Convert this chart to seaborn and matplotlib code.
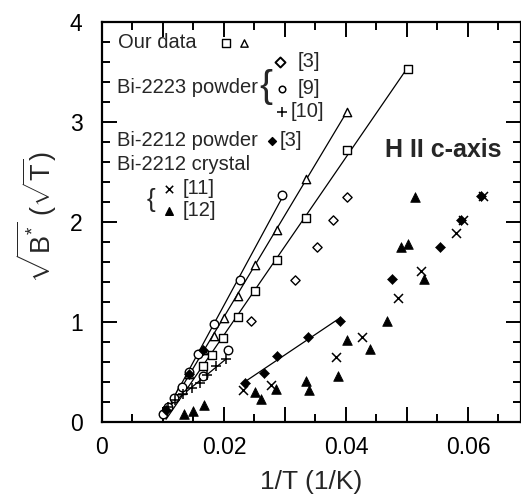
import numpy as np
import pandas as pd
import matplotlib
matplotlib.use("Agg")
import matplotlib.pyplot as plt
import seaborn as sns

# ------------------------------------------------
# Data
# ------------------------------------------------
# Our data - open squares (fitted line)
sq_x = [0.0131, 0.0166, 0.0181, 0.0198, 0.0223, 0.0251, 0.0287, 0.0334, 0.0402, 0.0501]
sq_y = [0.32, 0.56, 0.67, 0.84, 1.05, 1.31, 1.62, 2.04, 2.72, 3.53]
# Our data - open triangles (fitted line)
tri_x = [0.0127, 0.0143, 0.0166, 0.0184, 0.0200, 0.0223, 0.0251, 0.0287, 0.0334, 0.0401]
tri_y = [0.32, 0.48, 0.72, 0.86, 1.04, 1.26, 1.57, 1.92, 2.43, 3.10]
# Bi-2223 powder [3] - open diamonds
dia_x = [0.0245, 0.0316, 0.0352, 0.0378, 0.0401]
dia_y = [1.01, 1.42, 1.75, 2.02, 2.25]
# Bi-2223 powder [9] - open circles (fitted line) and two off-line circles
circ_x = [0.0100, 0.0108, 0.0118, 0.0131, 0.0143, 0.0158, 0.0183, 0.0226, 0.0295]
circ_y = [0.08, 0.15, 0.24, 0.35, 0.50, 0.68, 0.98, 1.42, 2.27]
circ_off_x = [0.0166, 0.0207]
circ_off_y = [0.46, 0.72]
# Bi-2223 powder [10] - plus (fitted line)
plus_x = [0.0109, 0.0120, 0.0133, 0.0147, 0.0161, 0.0172, 0.0187, 0.0204]
plus_y = [0.15, 0.22, 0.28, 0.34, 0.39, 0.47, 0.56, 0.63]
# Bi-2212 powder [3] - filled diamonds (line over the first five)
fdia_x = [0.0234, 0.0266, 0.0287, 0.0337, 0.0390]
fdia_y = [0.39, 0.49, 0.66, 0.85, 1.01]
fdia_off_x = [0.0105, 0.0142, 0.0166, 0.0475, 0.0555, 0.0588, 0.0621]
fdia_off_y = [0.12, 0.48, 0.72, 1.43, 1.75, 2.02, 2.26]
# Bi-2212 crystal [11] - crosses
cross_x = [0.0231, 0.0277, 0.0384, 0.0426, 0.0485, 0.0523, 0.0580, 0.0592, 0.0625]
cross_y = [0.32, 0.37, 0.65, 0.85, 1.24, 1.51, 1.89, 2.02, 2.26]
# Bi-2212 crystal [12] - filled triangles
ftri_x = [0.0135, 0.0149, 0.0168, 0.0251, 0.0260, 0.0286, 0.0334, 0.0340, 0.0387,
          0.0401, 0.0440, 0.0467, 0.0491, 0.0502, 0.0514, 0.0528]
ftri_y = [0.08, 0.11, 0.17, 0.30, 0.23, 0.33, 0.41, 0.32, 0.46,
          0.82, 0.73, 1.01, 1.75, 1.78, 2.25, 1.43]

x_ticks = [0, 0.01, 0.02, 0.03, 0.04, 0.05, 0.06]
x_ticklabels = ['0', '', '0.02', '', '0.04', '', '0.06']
y_ticks = [0, 1, 2, 3, 4]

# start of each fitted line
line_start = {"sq": 0.0105, "tri": 0.0102, "circ": 0.0099, "plus": 0.0100}

# ------------------------------------------------
# Style
# ------------------------------------------------
sns.set_style("ticks")
plt.rcParams['font.family'] = ['Liberation Sans', 'DejaVu Sans']
plt.rcParams['mathtext.fontset'] = 'custom'
plt.rcParams['mathtext.rm'] = 'Liberation Sans'
plt.rcParams['mathtext.it'] = 'Liberation Sans:italic'
plt.rcParams['mathtext.bf'] = 'Liberation Sans:bold'

fig = plt.figure(figsize=(5.21, 5), dpi=100)
ax = fig.add_axes([102 / 521, 1 - 421.7 / 500, 419 / 521, 400 / 500])

K = 'black'


def fit_line(xs, ys, x0, x1=None):
    p = np.polyfit(xs, ys, 1)
    x1 = max(xs) if x1 is None else x1
    xx = np.array([x0, x1])
    sns.lineplot(x=xx, y=np.polyval(p, xx), ax=ax, color=K, lw=0.9, zorder=2)


fit_line(sq_x, sq_y, line_start["sq"])
fit_line(tri_x, tri_y, line_start["tri"])
fit_line(circ_x, circ_y, line_start["circ"])
fit_line(plus_x, plus_y, line_start["plus"])
fit_line(fdia_x, fdia_y, min(fdia_x))

open_kw = dict(facecolor='white', edgecolor=K, linewidth=1.0, zorder=3, ax=ax)
sns.scatterplot(x=sq_x, y=sq_y, marker='s', s=34, **open_kw)
sns.scatterplot(x=tri_x, y=tri_y, marker='^', s=36, **open_kw)
sns.scatterplot(x=dia_x, y=dia_y, marker='D', s=22, **open_kw)
sns.scatterplot(x=circ_x + circ_off_x, y=circ_y + circ_off_y, marker='o', s=38, **open_kw)
sns.scatterplot(x=plus_x, y=plus_y, marker='+', s=60, color=K, linewidth=1.1, zorder=3, ax=ax)
sns.scatterplot(x=fdia_x + fdia_off_x, y=fdia_y + fdia_off_y, marker='D', s=26,
                color=K, edgecolor=K, zorder=3, ax=ax)
sns.scatterplot(x=cross_x, y=cross_y, marker='x', s=42, color=K, linewidth=1.1, zorder=3, ax=ax)
sns.scatterplot(x=ftri_x, y=ftri_y, marker='^', s=48, color=K, edgecolor=K, zorder=3, ax=ax)

# ------------------------------------------------
# Axes
# ------------------------------------------------
ax.set_xlim(0, 0.0687)
ax.set_ylim(0, 4)
ax.set_xticks(x_ticks)
ax.set_xticklabels(x_ticklabels)
ax.set_xticks(np.arange(0, 0.069, 0.005), minor=True)
ax.set_yticks(y_ticks)
ax.set_yticks(np.arange(0, 4.01, 0.2), minor=True)

ax.tick_params(which='both', direction='in', top=True, right=True, width=1.4, colors=K)
ax.tick_params(which='major', length=11)
ax.tick_params(which='minor', length=6)
ax.tick_params(axis='x', which='major', labelsize=16.5, pad=10)
ax.tick_params(axis='y', which='major', labelsize=16.5, pad=14)
for sp in ax.spines.values():
    sp.set_linewidth(1.6)
    sp.set_color(K)

ax.set_xlabel('1/T (1/K)', fontsize=19, labelpad=8)
ax.set_ylabel(r'$\sqrt{\mathrm{B}^{*}}\ (\sqrt{\mathrm{T}})$', fontsize=19.5)
ax.yaxis.set_label_coords(-0.155, 0.51)
ax.yaxis.label.set_va('center')

# ------------------------------------------------
# Hand-drawn legend
# ------------------------------------------------
fs = 14.5
ax.text(0.0026, 3.79, 'Our data', fontsize=fs, va='center')
ax.scatter([0.0203], [3.79], marker='s', s=26, facecolor='white', edgecolor=K, lw=1.0)
ax.scatter([0.0233], [3.79], marker='^', s=28, facecolor='white', edgecolor=K, lw=1.0)

ax.text(0.0025, 3.34, 'Bi-2223 powder', fontsize=fs, va='center')
ax.text(0.0268, 3.35, '{', fontsize=28, va='center', ha='center')
ax.scatter([0.0292], [3.60], marker='D', s=26, facecolor='white', edgecolor=K, lw=1.4)
ax.text(0.0321, 3.60, '[3]', fontsize=fs, va='center')
ax.scatter([0.0295], [3.33], marker='o', s=22, facecolor='white', edgecolor=K, lw=1.1)
ax.text(0.0321, 3.33, '[9]', fontsize=fs, va='center')
ax.scatter([0.0295], [3.10], marker='+', s=55, color=K, lw=1.1)
ax.text(0.0310, 3.10, '[10]', fontsize=fs, va='center')

ax.text(0.0025, 2.81, 'Bi-2212 powder', fontsize=fs, va='center')
ax.scatter([0.0278], [2.81], marker='D', s=16, color=K)
ax.text(0.0292, 2.81, '[3]', fontsize=fs, va='center')

ax.text(0.0025, 2.57, 'Bi-2212 crystal', fontsize=fs, va='center')
ax.text(0.0081, 2.22, '{', fontsize=19, va='center', ha='center')
ax.scatter([0.0110], [2.33], marker='x', s=28, color=K, lw=1.1)
ax.text(0.0133, 2.33, '[11]', fontsize=fs, va='center')
ax.scatter([0.0110], [2.11], marker='^', s=30, color=K)
ax.text(0.0133, 2.11, '[12]', fontsize=fs, va='center')

ax.text(0.0464, 2.72, 'H II c-axis', fontsize=18, fontweight='bold', va='center')

fig.savefig('out.png', dpi=100)
